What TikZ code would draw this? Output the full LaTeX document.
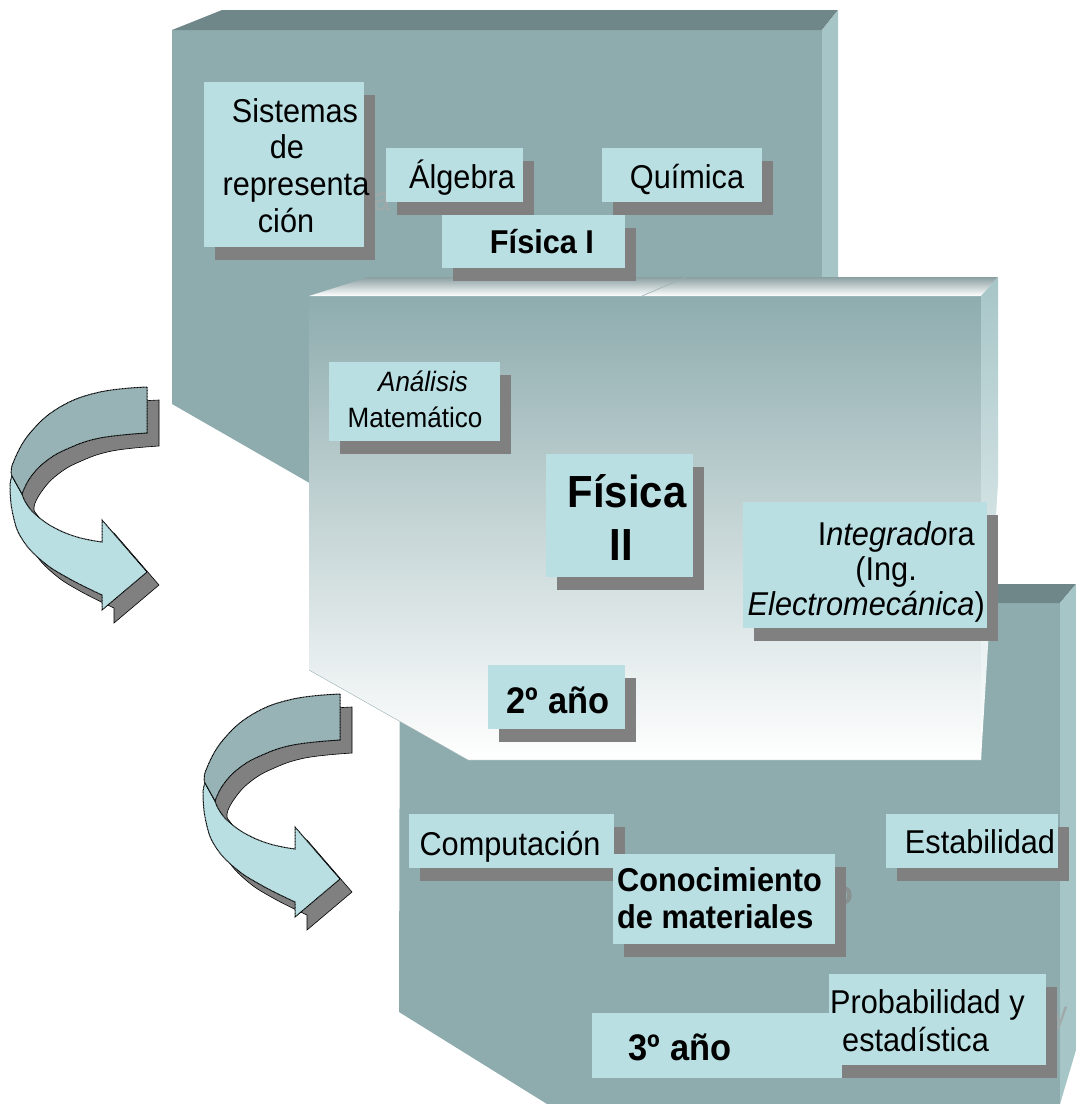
\documentclass[tikz,border=0pt]{standalone}
\usepackage{fontspec}
\setmainfont{Liberation Sans}[FakeStretch=0.93]
\usetikzlibrary{shadows}
\definecolor{bfront}{HTML}{8EACAE}
\definecolor{btop}{HTML}{6F8789}
\definecolor{bside}{HTML}{A6C5C7}
\definecolor{boxc}{HTML}{B9DFE3}
\definecolor{shadc}{HTML}{808080}
\definecolor{ardark}{HTML}{97B3B6}
\definecolor{ghost}{HTML}{A0A9A9}
\definecolor{mtop}{HTML}{8A9FA1}
\definecolor{mline}{HTML}{9AAFB1}
\definecolor{mside}{HTML}{E2EBEC}
\newcommand\myCurvedArrow{%
  \filldraw[fill=shadc, draw=black, line width=0.6pt, shift={(12,13)}]
    plot[smooth, tension=0.7] coordinates {(147,387) (100,392) (60,407) (30,433) (13,463) (10,488) (13,515) (22,539) (42,561) (68,578) (102,595)}
    -- (102,610) -- (147,572) -- (102,520) -- (102,542)
    -- plot[smooth, tension=0.7] coordinates {(102,542) (77,537) (53,527) (35,514) (26,503) (22,494) (30,478) (45,462) (67,449) (100,438) (147,433)}
    -- cycle;
  \filldraw[arrowline, fill=boxc]
    plot[smooth, tension=0.7] coordinates {(12,476) (10,488) (13,515) (22,539) (42,561) (68,578) (102,595)}
    -- (102,610) -- (147,572) -- (102,520) -- (102,542)
    -- plot[smooth, tension=0.7] coordinates {(102,542) (77,537) (53,527) (35,514) (26,503) (22,494)}
    -- cycle;
  \filldraw[arrowline, fill=ardark]
    plot[smooth, tension=0.7] coordinates {(147,387) (100,392) (60,407) (30,433) (13,463) (12,476)}
    -- (22,494)
    -- plot[smooth, tension=0.7] coordinates {(22,494) (30,478) (45,462) (67,449) (100,438) (147,433)}
    -- cycle;
}
\begin{document}
\begin{tikzpicture}[x=1pt,y=-1pt,
  cbox/.style={fill=boxc, inner sep=0pt, draw=none,
    drop shadow={shadow xshift=11pt, shadow yshift=-13pt, fill=shadc, opacity=1}},
  reg/.style={inner sep=0pt, font=\fontsize{33}{39}\selectfont},
  bld/.style={inner sep=0pt, font=\fontsize{33}{39}\selectfont\bfseries},
  arrowline/.style={draw=black, line width=1pt, dash pattern=on 1pt off 0.5pt}]
\useasboundingbox (0,0) rectangle (1076,1104);
% ---------- top block (1st year)
\fill[bfront] (172,30) -- (822,30) -- (822,520) -- (374,520) -- (172,404) -- cycle;
\fill[btop] (172,30) -- (222,10) -- (838,10) -- (822,30) -- cycle;
\fill[bside] (822,30) -- (838,10) -- (838,520) -- (822,520) -- cycle;
% ---------- bottom block (3rd year)
\fill[bfront] (400,603) -- (1060,603) -- (1060,1104) -- (547,1104) -- (399,1012) -- cycle;
\fill[btop] (400,603) -- (450,584) -- (1076,584) -- (1060,603) -- cycle;
\fill[bside] (1060,603) -- (1076,584) -- (1076,1050) -- (1060,1104) -- cycle;
% ---------- middle block (2nd year)
\shade[top color=bfront, bottom color=white] (309,296) -- (981,296) -- (981,760) -- (468,760) -- (309,670) -- cycle;
\shade[top color=mtop, bottom color=white] (309,296) -- (369,277) -- (998,277) -- (981,296) -- cycle;
\shade[top color=bside, middle color=mside, bottom color=white] (981,296) -- (998,277) -- (998,483) -- (981,760) -- cycle;
\draw[mline, line width=0.6pt] (642,296) -- (686,277);
\draw[mline, line width=0.4pt] (309,670) -- (468,760) -- (981,760);
% ---------- ghost letters
\node[reg, anchor=base west, text=ghost] (gha) at (373,210) {a};
\node[bld, anchor=base west, text=ghost!85!black] (gho) at (834,904) {o};
\node[reg, anchor=base west, text=ghost] (ghy) at (1052,1024) {y};
% ---------- top block boxes
\node[cbox, minimum width=160pt, minimum height=165pt] (sisbox) at (284,164.5) {};
\node[reg, anchor=base] (sis1) at (295,122) {Sistemas};
\node[reg, anchor=base] (sis2) at (287,158) {de};
\node[reg, anchor=base] (sis3) at (296,195) {representa};
\node[reg, anchor=base] (sis4) at (286,232) {ción};
\node[cbox, minimum width=137pt, minimum height=54pt] (algbox) at (454.5,175) {};
\node[reg, anchor=base] (alg) at (462,188) {Álgebra};
\node[cbox, minimum width=160pt, minimum height=54pt] (quibox) at (682,175) {};
\node[reg, anchor=base] (qui) at (687,188) {Química};
\node[cbox, minimum width=183pt, minimum height=53pt] (f1box) at (533.5,241.5) {};
\node[bld, anchor=base] (f1) at (542,253) {Física I};
% ---------- middle block boxes
\node[cbox, minimum width=171pt, minimum height=79pt] (anbox) at (414.5,401.5) {};
\node[reg, anchor=base, font=\fontsize{28}{33}\selectfont\itshape] (an1) at (423,391) {Análisis};
\node[reg, anchor=base, font=\fontsize{28}{33}\selectfont] (an2) at (415,427.5) {Matemático};
\node[cbox, minimum width=147pt, minimum height=123pt] (f2box) at (619.5,515.5) {};
\node[bld, anchor=base, font=\fontsize{45}{54}\selectfont\bfseries] (f2a) at (627,507) {Física};
\node[bld, anchor=base, font=\fontsize{45}{54}\selectfont\bfseries] (f2b) at (621,560) {II};
\node[cbox, minimum width=244pt, minimum height=126pt] (intbox) at (865,565) {};
\node[reg, anchor=base east] (int1) at (975,545) {I\textit{ntegrado}ra};
\node[reg, anchor=base east] (int2) at (917,580) {(Ing.};
\node[reg, anchor=base east] (int3) at (985,615) {\textit{Electromecánica})};
\node[cbox, minimum width=137pt, minimum height=64pt] (a2box) at (556.5,697) {};
\node[bld, anchor=base, font=\fontsize{37}{44}\selectfont\bfseries] (a2) at (558,713) {2º año};
% ---------- bottom block boxes
\node[cbox, minimum width=205pt, minimum height=54pt] (compbox) at (511.5,841) {};
\node[reg, anchor=base] (comp) at (510,855) {Computación};
\node[cbox, minimum width=222pt, minimum height=90pt] (conbox) at (724,899) {};
\node[bld, anchor=base west] (con1) at (617,891) {Conocimiento};
\node[bld, anchor=base west] (con2) at (617,928) {de materiales};
\node[cbox, minimum width=172pt, minimum height=54pt] (estbox) at (972,841) {};
\node[reg, anchor=base] (est) at (980,853) {Estabilidad};
\node[cbox, minimum width=217pt, minimum height=91pt] (probbox) at (937.5,1019.5) {};
\node[fill=boxc, inner sep=0pt, minimum width=250pt, minimum height=65pt] (a3box) at (717,1045.5) {};
\node[reg, anchor=base west] (prob1) at (830,1013) {Probabilidad y};
\node[reg, anchor=base west] (prob2) at (842,1051) {estadística};
\node[bld, anchor=base, font=\fontsize{37}{44}\selectfont\bfseries] (a3) at (680,1060) {3º año};
% ---------- curved arrows
\begin{scope}
\myCurvedArrow
\end{scope}
\begin{scope}[shift={(193,307)}]
\myCurvedArrow
\end{scope}
\end{tikzpicture}
\end{document}
